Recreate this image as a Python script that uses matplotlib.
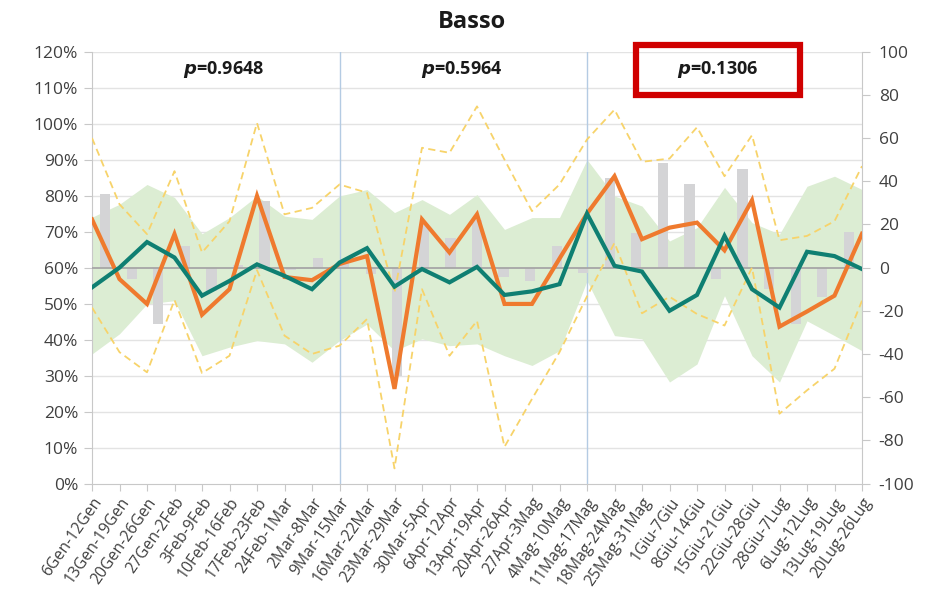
import matplotlib
matplotlib.use("Agg")
import matplotlib.pyplot as plt
from matplotlib.patches import Rectangle
import numpy as np

plt.rcParams['font.family'] = ['Open Sans', 'DejaVu Sans']

categories = ["6Gen-12Gen", "13Gen-19Gen", "20Gen-26Gen", "27Gen-2Feb", "3Feb-9Feb",
              "10Feb-16Feb", "17Feb-23Feb", "24Feb-1Mar", "2Mar-8Mar", "9Mar-15Mar",
              "16Mar-22Mar", "23Mar-29Mar", "30Mar-5Apr", "6Apr-12Apr", "13Apr-19Apr",
              "20Apr-26Apr", "27Apr-3Mag", "4Mag-10Mag", "11Mag-17Mag", "18Mag-24Mag",
              "25Mag-31Mag", "1Giu-7Giu", "8Giu-14Giu", "15Giu-21Giu", "22Giu-28Giu",
              "28Giu-7Lug", "6Lug-12Lug", "13Lug-19Lug", "20Lug-26Lug"]

# left axis (%)
orange = [73.4, 56.8, 49.9, 69.3, 46.9, 54.0, 79.9, 57.4, 56.5, 61.0,
          63.2, 26.3, 73.4, 64.2, 74.8, 49.9, 49.9, 62.5, 75.0, 85.4,
          67.9, 71.1, 72.5, 64.8, 78.7, 43.6, 47.8, 52.2, 69.4]
teal = [54.5, 60.0, 67.1, 62.8, 52.2, 56.3, 60.9, 57.7, 54.0, 61.4,
        65.4, 54.7, 59.6, 55.9, 60.2, 52.4, 53.4, 55.4, 75.0, 60.5,
        58.9, 48.0, 52.4, 68.8, 54.0, 48.9, 64.4, 63.2, 59.6]
upper_dash = [96.0, 77.6, 69.3, 86.8, 64.2, 72.9, 100.2, 74.8, 76.6, 83.1,
              80.8, 53.0, 93.3, 91.9, 104.8, 90.0, 75.7, 83.1, 95.6, 103.9,
              89.4, 90.3, 99.0, 85.4, 96.8, 67.6, 68.8, 72.9, 88.2]
lower_dash = [48.9, 36.5, 30.9, 51.0, 30.7, 35.5, 59.3, 41.1, 36.0, 38.3,
              45.7, 4.2, 54.0, 35.5, 45.2, 10.2, 23.5, 36.5, 52.0, 66.9,
              47.3, 51.9, 47.1, 43.9, 60.0, 19.4, 25.9, 31.9, 50.8]
band_upper = [74.0, 77.6, 83.1, 79.5, 69.4, 73.9, 79.9, 74.3, 73.4, 79.9,
              81.7, 75.3, 78.9, 74.8, 80.3, 70.6, 73.9, 73.9, 90.0, 79.9,
              77.1, 67.4, 71.1, 82.3, 72.5, 69.3, 82.6, 85.4, 81.7]
band_lower = [36.0, 41.6, 49.9, 50.8, 35.5, 37.9, 39.7, 38.8, 33.7, 39.7,
              44.3, 36.9, 40.2, 38.3, 38.8, 35.5, 32.8, 36.9, 56.3, 41.1,
              40.2, 28.2, 33.2, 52.2, 35.5, 28.2, 45.2, 41.1, 36.9]
# right axis bars
bars = [34, -5.4, -26, 10, -11, 1, 31, -1, 4.6, 2,
        -3, -50, 20, 13.7, 22, -4.5, -6, 10, -2.3, 41.5,
        16, 48.5, 38.5, -5.2, 45.8, -9.7, -26, -13.5, 16.5]

p_labels = ["0.9648", "0.5964", "0.1306"]
left_ticks = list(range(0, 121, 10))
right_ticks = list(range(-100, 101, 20))

fig = plt.figure(figsize=(9.35, 5.95), dpi=100)
ax = fig.add_axes([92/935, 1 - 483.5/595, (862-92)/935, (483.5-51.7)/595])
ax2 = ax.twinx()
ax3 = ax.twinx()

n = len(categories)
x = np.arange(n)

grid_c = '#e3e3e3'
spine_c = '#c8c8c8'
txt_c = '#404040'

# band and grid on ax
ax.set_xlim(0, n - 1)
ax.set_ylim(0, 120)
for v in left_ticks[1:]:
    ax.axhline(v, color=grid_c, lw=1.0, zorder=0)
ax.fill_between(x, band_lower, band_upper, color='#dcedd3', lw=0, zorder=1)
for sep in [9, 18]:
    ax.axvline(sep, color='#b4cbe3', lw=1.0, zorder=2)

ax.set_yticks(left_ticks)
ax.set_yticklabels([f"{v}%" for v in left_ticks], fontsize=12.5, color=txt_c)
ax.set_xticks(x)
ax.set_xticklabels(categories, rotation=55, ha='right', rotation_mode='anchor',
                   fontsize=11.3, color=txt_c)
ax.tick_params(axis='x', length=5, color=spine_c, pad=3)
ax.tick_params(axis='y', length=6, color=spine_c, pad=4)
for s in ['top', 'right']:
    ax.spines[s].set_visible(False)
for s in ['left', 'bottom']:
    ax.spines[s].set_color(spine_c)

# bars on right axis, secondary category axis (29 slots across width)
ax2.set_ylim(-100, 100)
slot = (n - 1) / n
bar_x = (np.arange(n) + 0.5) * slot
ax2.bar(bar_x, bars, width=0.37, color='#d4d4d6', zorder=2)
ax2.axhline(0, color='#a6a6a6', lw=1.3, zorder=3)
ax2.set_yticks(right_ticks)
ax2.set_yticklabels([str(v) for v in right_ticks], fontsize=12.5, color=txt_c)
ax2.tick_params(axis='y', length=6, color=spine_c, pad=6)
for s in ['top', 'left', 'bottom']:
    ax2.spines[s].set_visible(False)
ax2.spines['right'].set_color(spine_c)

# lines on top axis with left scale
ax3.set_ylim(0, 120)
ax3.set_xlim(0, n - 1)
ax3.plot(x, upper_dash, color='#f7d36a', lw=1.3, ls=(0, (4, 2.5)), zorder=3)
ax3.plot(x, lower_dash, color='#f7d36a', lw=1.3, ls=(0, (4, 2.5)), zorder=3)
ax3.plot(x, orange, color='#ef7a2e', lw=3.0, zorder=4, solid_joinstyle='miter')
ax3.plot(x, teal, color='#0f7f72', lw=3.0, zorder=5, solid_joinstyle='miter')
ax3.set_yticks([])
for s in ax3.spines.values():
    s.set_visible(False)

# title
fig.text(472/935, 1 - 22/595, "Basso", ha='center', va='center',
         fontsize=17, fontweight='bold', color='#1a1a1a')

# p-values
for px, lab in zip([224, 462, 718], p_labels):
    fig.text(px/935, 1 - 70/595, f"$\\boldsymbol{{p}}$={lab}", ha='center', va='center',
             fontsize=13, fontweight='bold', color='#1a1a1a')
plt.rcParams['mathtext.fontset'] = 'dejavusans'

# red highlight box
fig.patches.append(Rectangle((636/935, 1 - 95/595), (800-636)/935, (95-45)/595,
                             transform=fig.transFigure, fill=False,
                             edgecolor='#d00000', lw=4.5, zorder=10))

fig.savefig("out.png", dpi=100)
